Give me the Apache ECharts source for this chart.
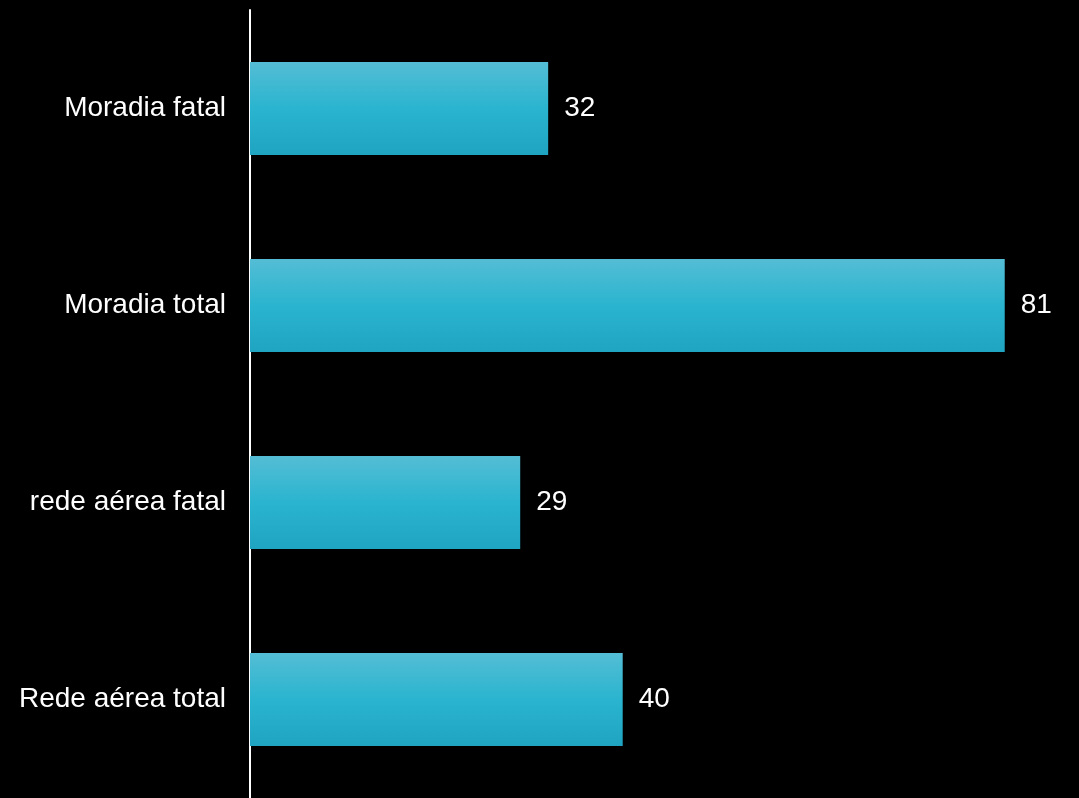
<!DOCTYPE html>
<html><head><meta charset="utf-8">
<script src="https://cdn.jsdelivr.net/npm/echarts@6/dist/echarts.min.js"></script>
<style>html,body{margin:0;padding:0;background:#000}#c{width:1079px;height:798px}</style>
</head><body><div id="c"></div>
<script>
const categories = ["Moradia fatal", "Moradia total", "rede aérea fatal", "Rede aérea total"];
const values = [32, 81, 29, 40];

const chart = echarts.init(document.getElementById('c'));
chart.setOption({
  backgroundColor: '#000000',
  animation: false,
  grid: { left: 250, top: 10, width: 792, height: 792, containLabel: false },
  xAxis: { type: 'value', min: 0, max: 85, show: false },
  yAxis: {
    type: 'category', data: categories, inverse: true,
    axisLine: { show: true, lineStyle: { color: '#ffffff', width: 2 } },
    axisTick: { show: false },
    axisLabel: { color: '#ffffff', fontSize: 28, fontFamily: 'Liberation Sans, Arial, sans-serif', margin: 24, padding: [4, 0, 0, 0] },
    splitLine: { show: false }
  },
  series: [{
    type: 'bar', data: values, barWidth: 93,
    itemStyle: {
      color: new echarts.graphic.LinearGradient(0, 0, 0, 1, [
        { offset: 0, color: '#54bdd5' },
        { offset: 0.5, color: '#2ab4cf' },
        { offset: 1, color: '#1fa4c1' }
      ])
    },
    label: { show: true, position: 'right', distance: 16, color: '#ffffff', fontSize: 28, fontFamily: 'Liberation Sans, Arial, sans-serif', padding: [4, 0, 0, 0] }
  }]
});
</script></body></html>
